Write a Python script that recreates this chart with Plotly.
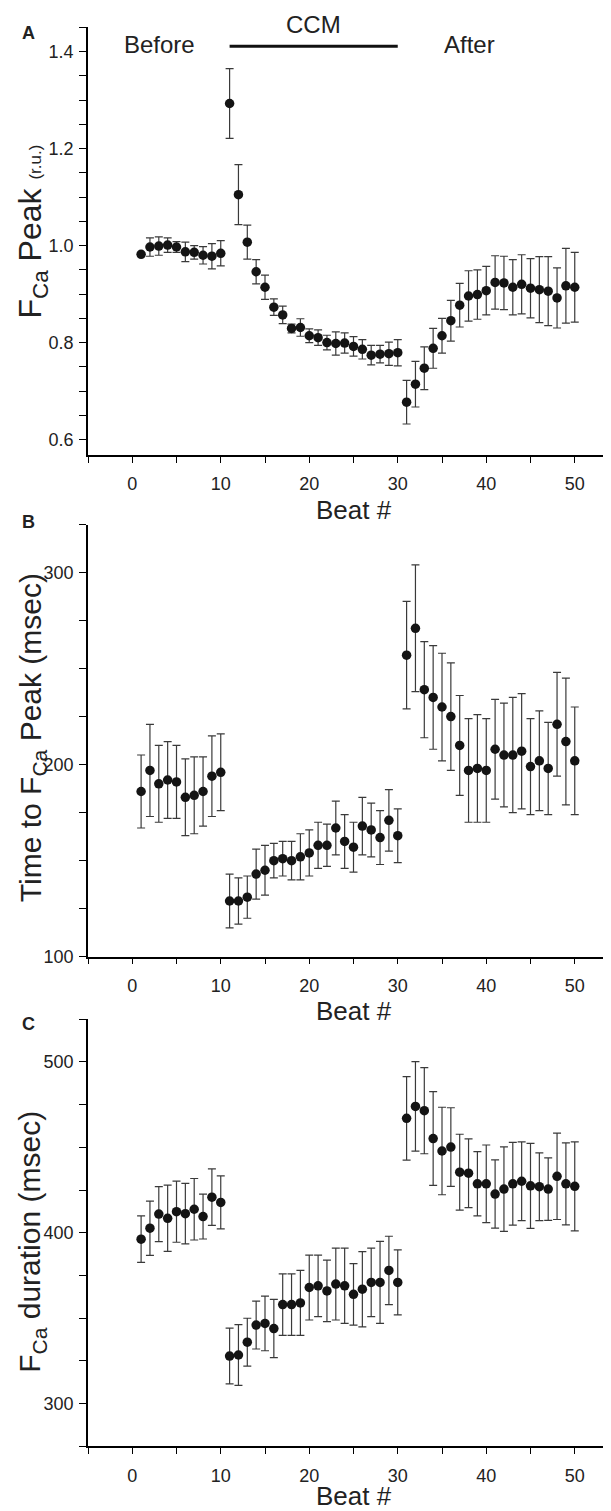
import plotly.graph_objects as go

# Beat number (x) shared by all three panels
beats = list(range(1, 51))

# Panel A: F_Ca peak (r.u.), mean and SEM
peak_mean = [0.982, 0.997, 0.999, 1.001, 0.997, 0.987, 0.986, 0.980, 0.978, 0.984,
             1.293, 1.105, 1.007, 0.946, 0.914, 0.873, 0.857, 0.829, 0.831, 0.814,
             0.810, 0.800, 0.798, 0.799, 0.792, 0.786, 0.774, 0.776, 0.777, 0.779,
             0.677, 0.714, 0.747, 0.788, 0.814, 0.845, 0.877, 0.896, 0.899, 0.907,
             0.924, 0.923, 0.914, 0.920, 0.912, 0.909, 0.906, 0.892, 0.917, 0.914]
peak_err = [0.004, 0.019, 0.019, 0.015, 0.011, 0.020, 0.014, 0.018, 0.026, 0.026,
            0.072, 0.062, 0.035, 0.025, 0.025, 0.017, 0.018, 0.009, 0.018, 0.014,
            0.016, 0.015, 0.024, 0.021, 0.020, 0.020, 0.020, 0.018, 0.024, 0.027,
            0.045, 0.047, 0.044, 0.041, 0.036, 0.042, 0.045, 0.052, 0.051, 0.050,
            0.055, 0.055, 0.057, 0.061, 0.061, 0.068, 0.071, 0.062, 0.077, 0.072]

# Panel B: time to F_Ca peak (msec)
ttp_mean = [186, 197, 190, 192, 191, 183, 184, 186, 194, 196,
            129, 129, 131, 143, 145, 150, 151, 150, 152, 154,
            158, 158, 167, 160, 157, 168, 166, 162, 171, 163,
            257, 271, 239, 235, 230, 225, 210, 197, 198, 197,
            208, 205, 205, 207, 199, 202, 198, 221, 212, 202]
ttp_err = [19, 24, 20, 20, 19, 20, 20, 18, 21, 20,
           14, 12, 11, 13, 13, 9, 9, 10, 12, 12,
           12, 11, 14, 14, 13, 15, 14, 14, 16, 14,
           28, 33, 25, 27, 28, 28, 26, 27, 28, 27,
           26, 27, 30, 30, 25, 26, 24, 27, 33, 28]

# Panel C: F_Ca duration (msec)
dur_mean = [396.3, 402.7, 411.0, 408.5, 412.4, 411.2, 413.8, 409.5, 420.9, 417.8,
            327.9, 328.5, 336, 346, 347, 344, 358, 358, 359, 368,
            369, 366, 370, 369, 364, 367, 371, 371, 378, 371,
            467.0, 474.0, 471.5, 455.2, 447.9, 450.2, 435.5, 434.9, 428.7, 428.7,
            422.7, 425.6, 428.7, 430.2, 427.5, 427.0, 425.6, 433.1, 428.7, 427.2]
dur_err = [13.6, 15.9, 16.1, 19.4, 17.9, 17.7, 18.0, 13.1, 16.5, 15.5,
           16.3, 17.8, 14, 14, 16, 17, 18, 18, 19, 19,
           18, 18, 21, 22, 18, 22, 20, 24, 20, 19,
           24.4, 26.2, 25.2, 27.4, 25.6, 23.0, 22.2, 20.1, 18.8, 22.7,
           20.0, 24.7, 24.2, 23.0, 24.9, 19.8, 18.3, 25.3, 24.0, 26.0]

W, H = 611, 1511
L = 80
FONT = "Liberation Sans, Arial, sans-serif"


def py(p):
    # pixel row -> paper y
    return 1 - p / H


def px(p):
    # pixel column -> paper x
    return (p - L) / (W - L)


panels = [
    ("", peak_mean, peak_err, [0.568, 1.45], 0.2, 0.05, ".1f", (19.5, 450)),
    ("2", ttp_mean, ttp_err, [100, 325], 100, 25, "d", (520, 955)),
    ("3", dur_mean, dur_err, [275, 525], 100, 25, "d", (1018, 1448)),
]

fig = go.Figure()
layout = {}
for sfx, mean, err, yr, dt, mdt, fmt, (top, bot) in panels:
    fig.add_trace(go.Scatter(
        x=beats, y=mean, mode="markers",
        marker=dict(size=9.5, color="#141414"),
        error_y=dict(type="data", array=err, visible=True,
                     color="#3a3a3a", thickness=1.2, width=4),
        xaxis="x" + sfx, yaxis="y" + sfx, showlegend=False,
        cliponaxis=False,
    ))
    layout["xaxis" + sfx] = dict(
        domain=[0, 1], anchor="y" + sfx, range=[-5, 55],
        showline=True, linecolor="black", linewidth=1.5,
        ticks="outside", ticklen=6, tickwidth=1.2, tickcolor="black",
        dtick=10, tick0=0, showgrid=False, zeroline=False,
        tickfont=dict(size=18, color="#222", family=FONT),
        ticklabelstandoff=6,
        minor=dict(dtick=5, tick0=0, ticks="outside", ticklen=6,
                   tickwidth=1.2, tickcolor="black", showgrid=False),
    )
    layout["yaxis" + sfx] = dict(
        domain=[py(bot), py(top)], anchor="x" + sfx, range=yr,
        showline=True, linecolor="black", linewidth=1.5,
        ticks="outside", ticklen=7, tickwidth=1.2, tickcolor="black",
        dtick=dt, tick0=0, tickformat=fmt, showgrid=False, zeroline=False,
        tickfont=dict(size=18, color="#222", family=FONT),
        ticklabelstandoff=2,
        minor=dict(dtick=mdt, tick0=0, ticks="outside", ticklen=7,
                   tickwidth=1.2, tickcolor="black", showgrid=False),
    )

annotations = []
# x-axis titles
for ypix in (505, 1010, 1498):
    annotations.append(dict(x=0.5, y=py(ypix), xref="paper", yref="paper",
                            text="Beat #", showarrow=False,
                            font=dict(size=26, color="#222", family=FONT),
                            xanchor="center", yanchor="middle"))
# y-axis titles
ytitles = [
    ("F<sub>Ca</sub> Peak <span style='font-size:17px'>(r.u.)</span>", 32, 25, 225),
    ("Time to F<sub>Ca</sub> Peak (msec)", 30, 24, 735),
    ("F<sub>Ca</sub> duration (msec)", 30, 24, 1242),
]
for txt, fs, xpix, ypix in ytitles:
    annotations.append(dict(x=px(xpix), y=py(ypix), xref="paper", yref="paper",
                            text=txt, showarrow=False, textangle=-90,
                            font=dict(size=fs, color="#222", family=FONT),
                            xanchor="center", yanchor="middle"))
# panel letters
for letter, ypix in (("A", 25), ("B", 517), ("C", 1023)):
    annotations.append(dict(x=px(20), y=py(ypix), xref="paper", yref="paper",
                            text="<b>" + letter + "</b>", showarrow=False,
                            font=dict(size=18, color="#222", family=FONT),
                            xanchor="center", yanchor="middle"))
# protocol labels over panel A
for txt, xb, ypix in (("Before", 3.1, 36.5), ("CCM", 20.5, 17), ("After", 38.1, 36.5)):
    annotations.append(dict(x=xb, y=py(ypix), xref="x", yref="paper",
                            text=txt, showarrow=False,
                            font=dict(size=24, color="#222", family=FONT),
                            xanchor="center", yanchor="middle"))

fig.update_layout(
    width=W, height=H,
    margin=dict(l=L, r=0, t=0, b=0),
    paper_bgcolor="white", plot_bgcolor="white",
    font=dict(family=FONT, color="#222"),
    annotations=annotations,
    shapes=[dict(type="line", xref="x", yref="paper", x0=11, x1=30,
                 y0=py(38.5), y1=py(38.5), line=dict(color="#111", width=3))],
    **layout,
)

fig.write_html("out.html")
